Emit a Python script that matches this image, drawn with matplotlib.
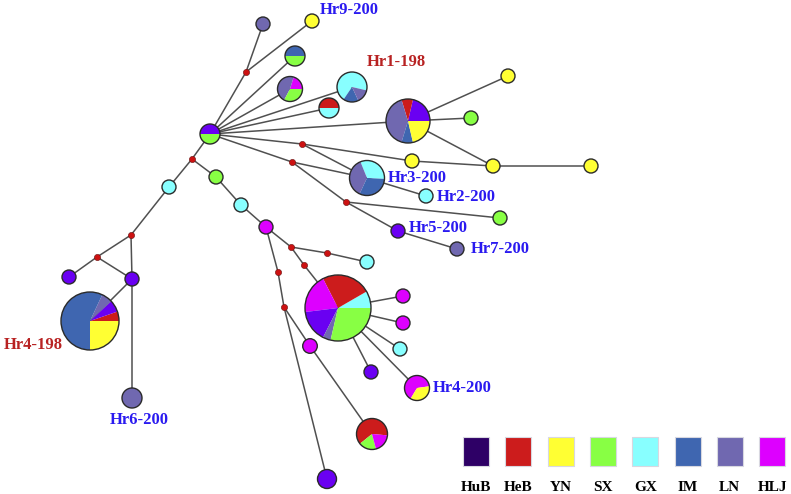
import matplotlib
matplotlib.use("Agg")
import matplotlib.pyplot as plt
from matplotlib.patches import Wedge, Circle, Rectangle

# ---------------- data ----------------
regions = ["HuB", "HeB", "YN", "SX", "GX", "IM", "LN", "HLJ"]
node_colors = {"HuB": "#6a00f2", "HeB": "#cc1c1c", "YN": "#ffff33", "SX": "#88ff44",
               "GX": "#88ffff", "IM": "#3f66b0", "LN": "#7068b0", "HLJ": "#dd00ff"}
legend_colors = ["#2e0066", "#cc1c1c", "#ffff33", "#88ff44",
                 "#88ffff", "#3f66b0", "#7068b0", "#dd00ff"]

# haplotype node positions (layout, pixel space) and radii
node_x = [210, 263, 312, 295, 290, 352, 329, 408, 508, 471, 412, 493, 591, 367, 426, 500,
          398, 457, 216, 241, 169, 266, 69, 132, 90, 132, 367, 338, 403, 403, 400, 371,
          417, 310, 372, 327]
node_y = [134, 24, 21, 56, 89, 87, 108, 121, 76, 118, 161, 166, 166, 178, 196, 218,
          231, 249, 177, 205, 187, 227, 277, 279, 321, 398, 262, 308, 296, 323, 349, 372,
          388, 346, 434, 479]
node_r = [10, 7, 7, 10, 12.5, 15, 10, 22, 7, 7, 7, 7, 7, 17.5, 7, 7,
          7, 7, 7, 7, 7, 7, 7, 7, 29, 10, 7, 33, 7, 7, 7, 7,
          12.5, 7.3, 15.5, 9.5]
# composition: list of (region, angular share in degrees), drawn ccw from start angle
node_comp = [
    [("HuB", 180), ("SX", 180)],
    [("LN", 360)], [("YN", 360)],
    [("IM", 180), ("SX", 180)],
    [("HLJ", 73), ("LN", 169), ("SX", 118)],
    [("GX", 249), ("IM", 59), ("LN", 52)],
    [("HeB", 180), ("GX", 180)],
    [("HuB", 77), ("HeB", 30), ("LN", 146), ("IM", 30), ("YN", 77)],
    [("YN", 360)], [("SX", 360)], [("YN", 360)], [("YN", 360)], [("YN", 360)],
    [("GX", 115), ("LN", 133), ("IM", 112)],
    [("GX", 360)], [("SX", 360)], [("HuB", 360)], [("LN", 360)],
    [("SX", 360)], [("GX", 360)], [("GX", 360)], [("HLJ", 360)],
    [("HuB", 360)], [("HuB", 360)],
    [("HeB", 19), ("HuB", 24), ("LN", 22), ("IM", 205), ("YN", 90)],
    [("LN", 360)], [("GX", 360)],
    [("GX", 30), ("HeB", 87), ("HLJ", 70), ("HuB", 56), ("LN", 14), ("SX", 103)],
    [("HLJ", 360)], [("HLJ", 360)], [("GX", 360)], [("HuB", 360)],
    [("HLJ", 231), ("YN", 129)],
    [("HLJ", 360)],
    [("HeB", 224), ("SX", 66), ("HLJ", 70)],
    [("HuB", 360)],
]
node_start = [0, 0, 0, 0, 0, -13, 0, 0, 0, 0, 0, 0, 0, -3, 0, 0,
              0, 0, 0, 0, 0, 0, 0, 0, 0, 0, 0, 0, 0, 0, 0, 0,
              8, 0, -5, 0]

# median vectors (red dots)
mv_x = [246, 302, 292, 346, 192, 131, 97, 291, 327, 304, 278, 284]
mv_y = [72, 144, 162, 202, 159, 235, 257, 247, 253, 265, 272, 307]

# edges: ("n", i) haplotype node, ("m", j) median vector
edges = [
    (("n", 0), ("m", 0)), (("m", 0), ("n", 1)), (("m", 0), ("n", 2)),
    (("n", 0), ("n", 3)), (("n", 0), ("n", 4)), (("n", 0), ("n", 5)),
    (("n", 0), ("n", 6)), (("n", 0), ("n", 7)), (("n", 0), ("m", 1)),
    (("m", 1), ("n", 10)), (("m", 1), ("n", 13)), (("n", 0), ("m", 2)),
    (("m", 2), ("n", 13)), (("m", 2), ("m", 3)), (("n", 7), ("n", 8)),
    (("n", 7), ("n", 9)), (("n", 7), ("n", 11)), (("n", 10), ("n", 11)),
    (("n", 11), ("n", 12)), (("n", 13), ("n", 14)), (("m", 3), ("n", 15)),
    (("m", 3), ("n", 16)), (("n", 16), ("n", 17)), (("n", 0), ("m", 4)),
    (("m", 4), ("n", 20)), (("m", 4), ("n", 18)), (("n", 18), ("n", 19)),
    (("n", 19), ("n", 21)), (("n", 20), ("m", 5)), (("m", 5), ("m", 6)),
    (("m", 5), ("n", 23)), (("m", 6), ("n", 22)), (("m", 6), ("n", 23)),
    (("n", 23), ("n", 24)), (("n", 23), ("n", 25)), (("n", 21), ("m", 7)),
    (("m", 7), ("m", 8)), (("m", 8), ("n", 26)), (("m", 7), ("m", 9)),
    (("m", 9), ("n", 27)), (("n", 21), ("m", 10)), (("m", 10), ("m", 11)),
    (("m", 11), ("n", 35)), (("m", 11), ("n", 33)), (("n", 33), ("n", 34)),
    (("n", 27), ("n", 28)), (("n", 27), ("n", 29)), (("n", 27), ("n", 30)),
    (("n", 27), ("n", 31)), (("n", 27), ("n", 32)),
]

# haplotype labels
label_text = ["Hr9-200", "Hr1-198", "Hr3-200", "Hr2-200", "Hr5-200", "Hr7-200",
              "Hr4-198", "Hr6-200", "Hr4-200"]
label_x = [320, 367, 388, 437, 409, 471, 4, 110, 433]
label_y = [10, 62, 178, 197, 228, 249, 345, 420, 388]
label_color = ["#2a1af0", "#b82222", "#2a1af0", "#2a1af0", "#2a1af0", "#2a1af0",
               "#b82222", "#2a1af0", "#2a1af0"]

# ---------------- drawing ----------------
W, H = 791, 494
fig = plt.figure(figsize=(W / 100, H / 100), dpi=100)
ax = fig.add_axes([0, 0, 1, 1])
ax.set_xlim(0, W)
ax.set_ylim(H, 0)
ax.axis("off")


def pos(ref):
    kind, i = ref
    if kind == "n":
        return node_x[i], node_y[i]
    return mv_x[i], mv_y[i]


for a, b in edges:
    (x1, y1), (x2, y2) = pos(a), pos(b)
    ax.plot([x1, x2], [y1, y2], color="#505050", lw=1.1, zorder=1,
            solid_capstyle="round")

for i in range(len(node_x)):
    cx, cy, r = node_x[i], node_y[i], node_r[i]
    comp = node_comp[i]
    if len(comp) == 1:
        ax.add_patch(Circle((cx, cy), r, facecolor=node_colors[comp[0][0]],
                            edgecolor="none", zorder=2))
    else:
        # y axis is inverted, so angle a (ccw on screen) maps to -a in data
        ang = node_start[i]
        for reg, share in comp:
            ax.add_patch(Wedge((cx, cy), r, -(ang + share), -ang,
                               facecolor=node_colors[reg], edgecolor="none",
                               zorder=2))
            ang += share
    ax.add_patch(Circle((cx, cy), r, facecolor="none", edgecolor="#2a2a2a",
                        lw=1.0, zorder=3))

ax.scatter(mv_x, mv_y, s=20, color="#cc1111", edgecolors="#661111",
           linewidths=0.4, zorder=4)

for t, x, y, c in zip(label_text, label_x, label_y, label_color):
    ax.text(x, y, t, color=c, fontsize=12, fontweight="bold",
            family="Liberation Serif", ha="left", va="center", zorder=5)

# legend
lx0, lstep, lw_, ly0, lh = 463, 42.3, 26, 437, 29
for k, (reg, col) in enumerate(zip(regions, legend_colors)):
    x = lx0 + k * lstep
    ax.add_patch(Rectangle((x, ly0), lw_, lh, facecolor=col,
                           edgecolor="#d8d8e0", lw=0.8, zorder=2))
    ax.text(x + lw_ / 2, 487, reg, fontsize=11, fontweight="bold",
            family="Liberation Serif", ha="center", va="center", color="black")

fig.savefig("out.png", dpi=100)
